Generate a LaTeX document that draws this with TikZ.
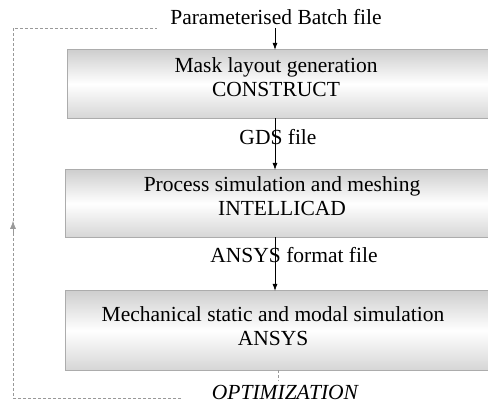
\documentclass[tikz,border=0pt]{standalone}
\usepackage{fontspec}
\setmainfont{Liberation Serif}
\usetikzlibrary{arrows.meta}
\begin{document}
\begin{tikzpicture}[x=1pt,y=-1pt,
    font=\rmfamily\fontsize{21.5}{24}\selectfont,
    stagebox/.style={minimum width=424pt,inner sep=0pt,
        top color=gray!38,bottom color=gray!32,middle color=white},
    stagetext/.style={align=center,inner sep=0pt},
    boxedge/.style={draw=gray!65,line width=0.6pt},
    flow/.style={line width=0.6pt,-{Latex[length=7pt,width=5pt]}},
    loopline/.style={gray!80,line width=0.6pt,densely dashed}]
    \useasboundingbox (0,0) rectangle (488,406);
    \clip (0,0) rectangle (488,406);
    \node (batch) at (276,17) {Parameterised Batch file};
    \node[stagebox,minimum height=68pt] (mask) at (279,84) {};
    \node[stagebox,minimum height=67pt] (process) at (277,203.5) {};
    \node[stagebox,minimum height=79pt] (mech) at (277,330.5) {};
    \node[stagetext] (masktext) at (276,77) {Mask layout generation\\CONSTRUCT};
    \node[stagetext] (processtext) at (282,196.5) {Process simulation and meshing\\INTELLICAD};
    \node[stagetext] (mechtext) at (273,326) {Mechanical static and modal simulation\\ANSYS};
    \draw[boxedge] (mask.north east) -- (mask.north west) -- (mask.south west) -- (mask.south east);
    \draw[boxedge] (process.north east) -- (process.north west) -- (process.south west) -- (process.south east);
    \draw[boxedge] (mech.north east) -- (mech.north west) -- (mech.south west) -- (mech.south east);
    \draw[flow] (batch.south -| 275,0) -- (mask.north -| 275,0);
    \draw[flow] (mask.south -| 275,0) -- (process.north -| 275,0);
    \draw[flow] (process.south -| 275,0) -- (mech.north -| 275,0);
    \node (gds) at (278,137) {GDS file};
    \node (ansysfile) at (294,255) {ANSYS format file};
    \node[font=\rmfamily\itshape\fontsize{21.5}{24}\selectfont] (optim) at (285,392) {OPTIMIZATION};
    \draw[loopline] (mech.south -| 278,0) -- (optim.north -| 278,0);
    % feedback loop
    \coordinate (fbstart) at (181,398);
    \coordinate (fbend) at (157,28);
    \draw[loopline] (fbstart) -- (13,398) -- (13,28) -- (fbend);
    \draw[-{Latex[length=8pt,width=6pt]},gray!80] (13,235) -- (13,221);
\end{tikzpicture}
\end{document}
